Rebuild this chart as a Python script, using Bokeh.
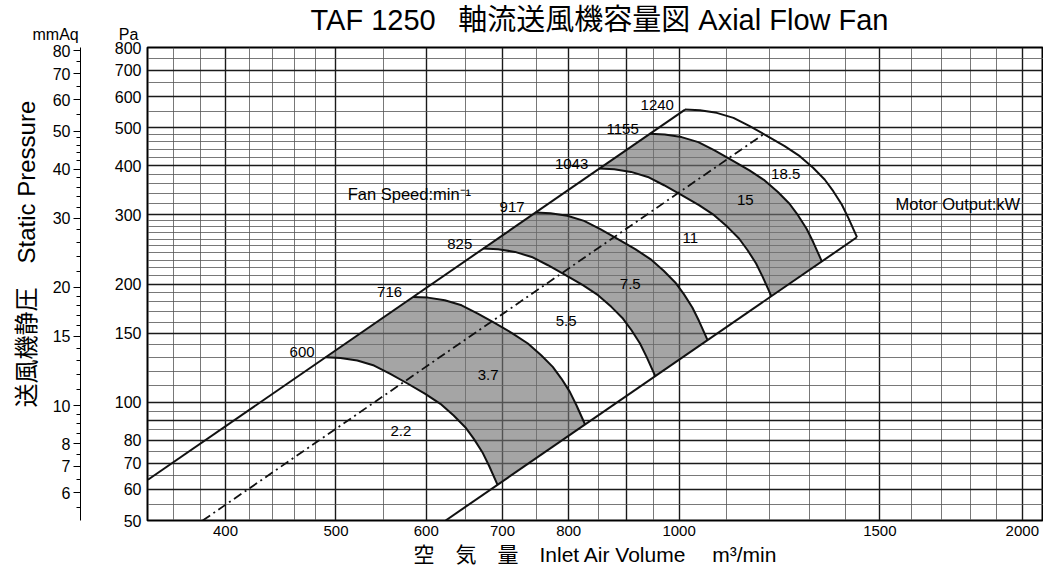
from bokeh.plotting import figure
from bokeh.models import (Range1d, LogAxis, FixedTicker, LogScale, Title,
                          ColumnDataSource, PrintfTickFormatter)
from bokeh.core.properties import value
from bokeh.embed import file_html
from bokeh.resources import INLINE

# ---------------- data ----------------
fan_speeds = [600, 716, 825, 917, 1043, 1155, 1240]          # min^-1
motor_kw = ["2.2", "3.7", "5.5", "7.5", "11", "15", "18.5"]   # kW
motor_label_q = [570, 680, 796, 906, 1023, 1143, 1240]
motor_label_p = [84.7, 117.6, 161.4, 200.4, 262.5, 327.9, 382]
# normalised fan curve: Q/N [m3/min per min^-1], P/N^2 x 1e4 [Pa]
curve_q = [0.816, 0.841, 0.870, 0.900, 0.930, 0.962, 0.998, 1.029, 1.057,
           1.082, 1.101, 1.120, 1.135, 1.155]
curve_p = [3.617, 3.602, 3.547, 3.444, 3.280, 3.105, 2.918, 2.752, 2.570,
           2.400, 2.241, 2.073, 1.917, 1.712]
shaded_pairs = [(600, 716), (825, 917), (1043, 1155)]
upper_q = [342, 1012]      # upper limit line
upper_p = [63.5, 556]
lower_q = [624, 1432]      # lower limit line
lower_p = [50, 263]
mid_q = [382, 1187]        # dash-dot line
mid_p = [50, 482]
x_ticks = [400, 500, 600, 700, 800, 1000, 1500, 2000]
x_grid_major = [400, 500, 600, 700, 800, 900, 1000, 1500, 2000]
x_grid_minor = [360, 380, 420, 440, 460, 480, 550, 650, 750, 850, 950,
                1100, 1200, 1300, 1400, 1600, 1700, 1800, 1900]
pa_ticks = [50, 60, 70, 80, 100, 150, 200, 300, 400, 500, 600, 700, 800]
y_grid_major = [50, 60, 70, 80, 90, 100, 150, 200, 300, 400, 500, 600, 700, 800]
y_grid_minor = ([55, 65, 75, 85, 95] + list(range(110, 150, 10)) + list(range(160, 200, 10))
                + list(range(210, 300, 10)) + [320, 340, 360, 380, 420, 440, 460, 480, 550, 650, 750])
mm_ticks = [5, 6, 7, 8, 10, 15, 20, 30, 40, 50, 60, 70, 80]
mm_minor = [5.5, 6.5, 7.5, 8.5, 9, 9.5, 11, 12, 13, 14, 16, 17, 18, 19, 22, 24, 26, 28,
            32, 34, 36, 38, 42, 44, 46, 48, 55, 65, 75]
PA_PER_MMAQ = 9.80665

FONT = "Liberation Sans, Noto Sans CJK JP"

p = figure(width=1043, height=576, x_axis_type="log", y_axis_type="log",
           x_range=Range1d(341.7, 2087.5), y_range=Range1d(50, 800),
           output_backend="svg", toolbar_location=None,
           min_border_left=147, min_border_right=0, min_border_top=47, min_border_bottom=56)
p.outline_line_color = "black"
p.outline_line_width = 2
p.background_fill_color = "white"
p.border_fill_color = "white"

# titles (main title outermost, unit captions just above the frame)
p.title.text = "TAF 1250\u2002 軸流送風機容量図 Axial Flow Fan"
p.title.align = "left"
p.title.offset = 163
p.title.text_font = FONT
p.title.text_font_size = "29px"
p.title.text_font_style = "normal"
p.title.text_color = "black"
p.title.standoff = -35
units_title = Title(text="mmAq\u2003\u2003\u2002Pa", align="left", offset=-115, standoff=10,
                    text_font=FONT, text_font_size="16px", text_font_style="normal",
                    text_color="black")
p.add_layout(units_title, "above")

# grids
for g, maj, mnr in ((p.xgrid, x_grid_major, x_grid_minor), (p.ygrid, y_grid_major, y_grid_minor)):
    g.ticker = FixedTicker(ticks=maj, minor_ticks=mnr)
    g.grid_line_color = "#1a1a1a"
    g.grid_line_width = 1.4
    g.minor_grid_line_color = "#555555"
    g.minor_grid_line_width = 0.8

# x axis
xa = p.xaxis[0]
xa.ticker = FixedTicker(ticks=x_ticks)
xa.formatter = PrintfTickFormatter(format="%d")
xa.major_tick_out = 0
xa.major_tick_in = 0
xa.minor_tick_out = 0
xa.minor_tick_in = 0
xa.major_label_standoff = 5
xa.major_label_text_font = FONT
xa.major_label_text_font_size = "15px"
xa.major_label_text_color = "black"
xa.axis_line_color = "black"
xa.axis_label = "空\u3000気\u3000量\u3000Inlet Air Volume\u3000 m\u00b3/min"
xa.axis_label_text_font = FONT
xa.axis_label_text_font_size = "21px"
xa.axis_label_text_font_style = "normal"
xa.axis_label_text_color = "black"
xa.axis_label_standoff = 4

# Pa axis
ya = p.yaxis[0]
ya.ticker = FixedTicker(ticks=pa_ticks)
ya.formatter = PrintfTickFormatter(format="%d")
ya.major_tick_out = 0
ya.major_tick_in = 0
ya.minor_tick_out = 0
ya.minor_tick_in = 0
ya.major_label_standoff = 6
ya.major_label_text_font = FONT
ya.major_label_text_font_size = "16px"
ya.major_label_text_color = "black"
ya.axis_line_color = "black"
ya.axis_label = "\u00a0"
ya.axis_label_text_font_size = "17px"
ya.axis_label_standoff = 9

# mmAq axis
p.extra_y_ranges = {"mmaq": Range1d(50 / PA_PER_MMAQ, 800 / PA_PER_MMAQ)}
p.extra_y_scales = {"mmaq": LogScale()}
ma = LogAxis(y_range_name="mmaq", ticker=FixedTicker(ticks=mm_ticks, minor_ticks=mm_minor),
             formatter=PrintfTickFormatter(format="%d"))
ma.major_tick_out = 7
ma.major_tick_in = 0
ma.minor_tick_out = 4
ma.minor_tick_in = 0
ma.major_label_standoff = 3
ma.major_label_text_font = FONT
ma.major_label_text_font_size = "16px"
ma.major_label_text_color = "black"
ma.axis_line_color = "black"
p.add_layout(ma, "left")

side_title = Title(text="送風機静圧\u3000Static Pressure", align="left", offset=113, standoff=19,
                   text_font=FONT, text_font_size="24px", text_font_style="normal",
                   text_color="black")
p.add_layout(side_title, "left")

# ---------------- curves ----------------
def arc(n):
    return [q * n for q in curve_q], [c * 1e-4 * n * n for c in curve_p]

patch_xs, patch_ys = [], []
for n1, n2 in shaded_pairs:
    x1, y1 = arc(n1)
    x2, y2 = arc(n2)
    patch_xs.append(x1 + x2[::-1])
    patch_ys.append(y1 + y2[::-1])
p.patches(patch_xs, patch_ys, fill_color="#727272", fill_alpha=0.64, line_color=None)

arc_xs, arc_ys = [], []
for n in fan_speeds:
    ax_, ay_ = arc(n)
    arc_xs.append(ax_)
    arc_ys.append(ay_)
p.multi_line(arc_xs, arc_ys, line_color="#111111", line_width=2)
p.line(upper_q, upper_p, line_color="#111111", line_width=2)
p.line(lower_q, lower_p, line_color="#111111", line_width=2)
p.line(mid_q, mid_p, line_color="#111111", line_width=1.8, line_dash="9 4 2 4")

# speed labels
src_speed = ColumnDataSource(dict(
    x=[curve_q[0] * n for n in fan_speeds],
    y=[curve_p[0] * 1e-4 * n * n for n in fan_speeds],
    t=[str(n) for n in fan_speeds]))
p.text(x="x", y="y", text="t", source=src_speed, text_align="right", text_baseline="middle",
       x_offset=-11, y_offset=-5, text_font=value("Liberation Sans"), text_font_size="15px",
       text_color="black")

src_kw = ColumnDataSource(dict(x=motor_label_q, y=motor_label_p, t=motor_kw))
p.text(x="x", y="y", text="t", source=src_kw, text_align="center", text_baseline="middle",
       text_font=value("Liberation Sans"), text_font_size="15px", text_color="black")

src_cap = ColumnDataSource(dict(x=[512, 1548], y=[339.6, 320.4],
                                t=["Fan Speed:min\u207b\u00b9", "Motor Output:kW"]))
p.text(x="x", y="y", text="t", source=src_cap, text_align="left", text_baseline="middle",
       text_font=value("Liberation Sans"), text_font_size="16.5px", text_color="black")

open("out.html", "w").write(file_html(p, INLINE))
